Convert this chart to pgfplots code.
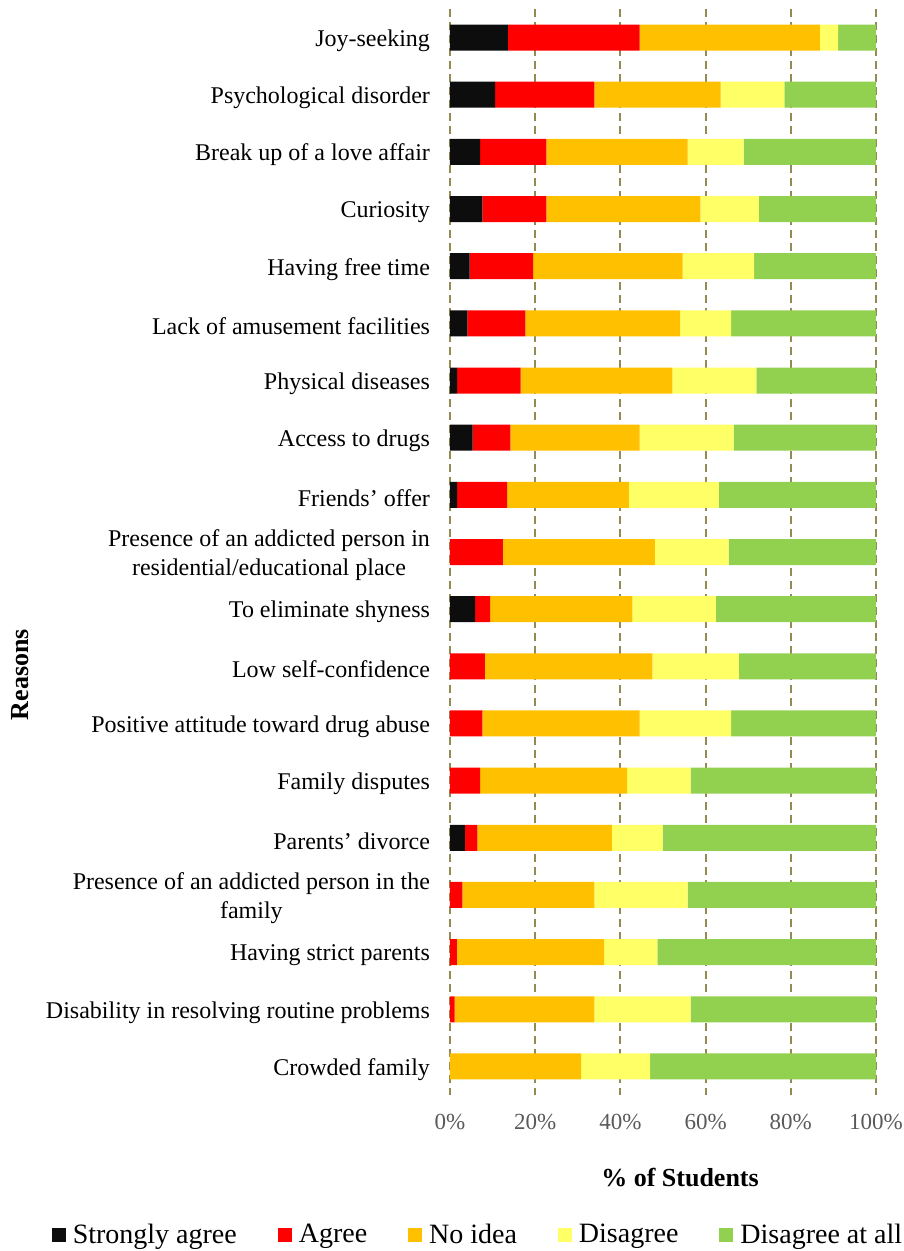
\documentclass[border=0pt]{standalone}
\usepackage{fontspec}
\setmainfont{Liberation Serif}
\usepackage{pgfplots}
\usepackage{pgfplotstable}
\pgfplotsset{compat=1.18}

\definecolor{cSA}{HTML}{0D0D0D}
\definecolor{cA}{HTML}{FF0000}
\definecolor{cNI}{HTML}{FFC000}
\definecolor{cD}{HTML}{FFFF66}
\definecolor{cDA}{HTML}{92D050}
\definecolor{gridc}{HTML}{948A54}
\definecolor{tickc}{HTML}{595959}

% y: 0 = top category
\pgfplotstableread{
y  sa    a     ni    d     da
0  13.6  30.9  42.3  4.3   8.9
1  10.6  23.3  29.6  15.0  21.5
2  7.1   15.5  33.2  13.1  31.1
3  7.6   15.0  36.2  13.7  27.5
4  4.6   14.9  35.1  16.8  28.6
5  4.1   13.6  36.3  12.0  34.0
6  1.7   14.9  35.6  19.7  28.1
7  5.3   8.9   30.3  22.1  33.4
8  1.7   11.7  28.6  21.1  36.9
9  0     12.4  35.7  17.3  34.6
10 5.9   3.5   33.4  19.6  37.6
11 0     8.2   39.3  20.3  32.2
12 0     7.6   36.9  21.5  34.0
13 0     7.1   34.5  14.9  43.5
14 3.5   2.9   31.6  11.9  50.1
15 0     2.9   31.0  21.9  44.2
16 0     1.6   34.6  12.5  51.3
17 0     1.1   32.8  22.6  43.5
18 0     0     30.8  16.2  53.0
}\reasons

\begin{document}
\begin{tikzpicture}
\path[use as bounding box] (-225bp,-78bp) rectangle (227bp,547.5bp);
\begin{axis}[
    scale only axis,
    width=213bp, height=543bp,
    xbar stacked,
    bar width=0.455,
    y dir=reverse,
    xmin=0, xmax=100,
    ymin=-0.5, ymax=18.5,
    axis line style={draw=none},
    major tick length=0pt,
    xtick={0,20,40,60,80,100},
    xticklabels={0\%,20\%,40\%,60\%,80\%,100\%},
    xticklabel style={font=\fontsize{11.5bp}{13bp}\selectfont, text=tickc, yshift=-6bp},
    ytick={0,...,18},
    yticklabels={
      {Joy-seeking},
      {Psychological disorder},
      {Break up of a love affair},
      {Curiosity},
      {Having free time},
      {Lack of amusement facilities},
      {Physical diseases},
      {Access to drugs},
      {Friends’ offer},
      {Presence of an addicted person in\\residential/educational place},
      {To eliminate shyness},
      {Low self-confidence},
      {Positive attitude toward drug abuse},
      {Family disputes},
      {Parents’ divorce},
      {Presence of an addicted person in the\\family},
      {Having strict parents},
      {Disability in resolving routine problems},
      {Crowded family}},
    yticklabel style={font=\fontsize{12bp}{14.5bp}\selectfont, align=center, xshift=-6.5bp, yshift=-1.5bp},
    xmajorgrids,
    grid style={gridc, line width=1bp, dash pattern=on 4bp off 2.5bp},
    axis on top=false,
    xlabel={\textbf{\% of Students}},
    xlabel style={font=\fontsize{13bp}{15bp}\selectfont, at={(axis description cs:0.54,-0.0764)}, anchor=center},
    ylabel={\textbf{Reasons}},
    ylabel style={font=\fontsize{13bp}{15bp}\selectfont, at={(axis description cs:-1.009,0.387)}, anchor=center, rotate=0},
    legend columns=-1,
    legend image code/.code={\fill[#1] (0bp,-3.5bp) rectangle (7bp,3.5bp);},
    legend style={draw=none, fill=none, font=\fontsize{14bp}{16bp}\selectfont,
      at={(axis description cs:0.068,-0.129)}, anchor=center,
      /tikz/every odd column/.append style={column sep=1.5bp},
      /tikz/every even column/.append style={column sep=18.5bp}},
]
\addplot[fill=cSA, draw=none] table[x=sa, y=y] {\reasons};
\addplot[fill=cA, draw=none] table[x=a, y=y] {\reasons};
\addplot[fill=cNI, draw=none] table[x=ni, y=y] {\reasons};
\addplot[fill=cD, draw=none] table[x=d, y=y] {\reasons};
\addplot[fill=cDA, draw=none] table[x=da, y=y] {\reasons};
\legend{Strongly agree, Agree, No idea, Disagree, Disagree at all}
\end{axis}
\end{tikzpicture}
\end{document}
